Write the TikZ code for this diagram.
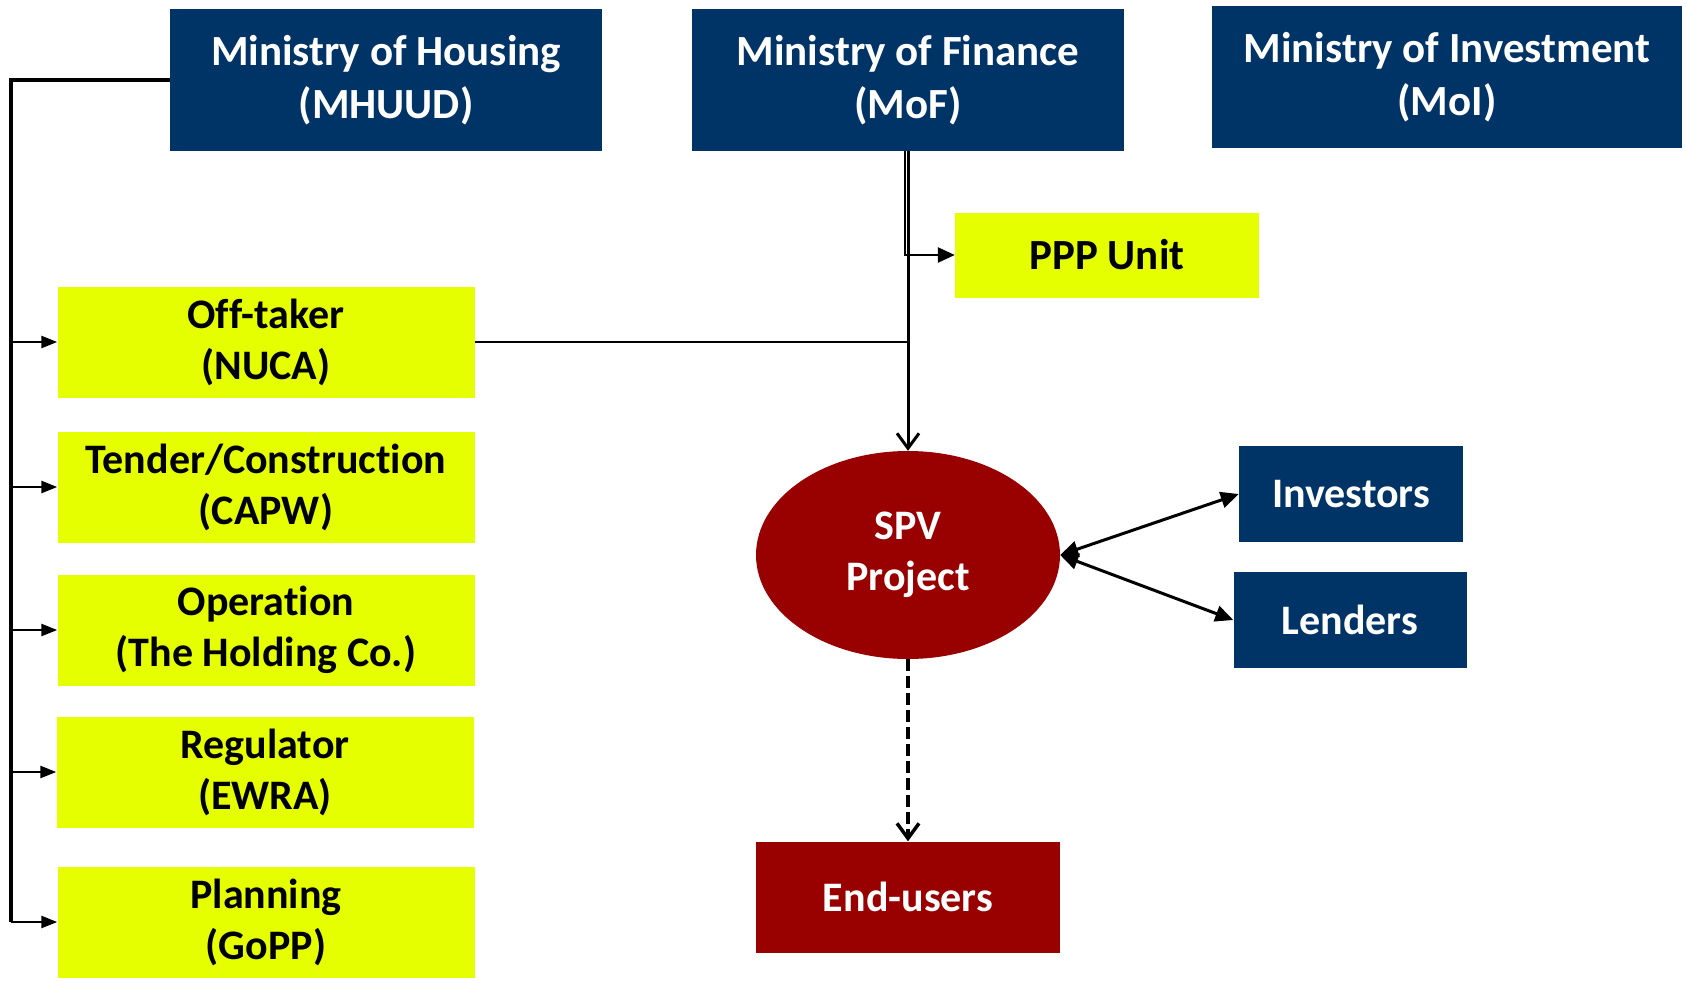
\documentclass[tikz,border=0pt]{standalone}
\usepackage{fontspec}
\setmainfont{Carlito}[Ligatures=NoCommon]
\usetikzlibrary{positioning, shapes.geometric, arrows.meta}
\definecolor{navy}{RGB}{0,51,102}
\definecolor{lime}{RGB}{229,255,0}
\definecolor{darkred}{RGB}{153,0,0}

\begin{document}
\begin{tikzpicture}
    [
      x=1pt, y=-1pt,
      every node/.style = {align=center, inner sep=0pt, font=\bfseries\fontsize{42}{51}\selectfont},
      navybox/.style = {rectangle, fill=navy, text=white, minimum height=142pt, font=\bfseries\fontsize{43}{53}\selectfont},
      limebox/.style = {rectangle, fill=lime, text=black, minimum width=417pt, minimum height=111pt},
      redbox/.style = {fill=darkred, text=white},
      conn/.style = {line width=2.5pt},
      filltip/.style = {-{Triangle[length=16pt,width=12pt]}},
      opentip/.style = {-{Straight Barb[length=15pt,width=22pt]}}
    ]
    \useasboundingbox (0,0) rectangle (1686,980);

    % ministries along the top
    \node[navybox, minimum width=432pt](mhuud) at (386,80) {Ministry of Housing\\(MHUUD)};
    \node[navybox, minimum width=432pt](mof) at (908,80) {Ministry of Finance\\(MoF)};
    \node[navybox, minimum width=470pt](moi) at (1447,77) {Ministry of Investment\\(MoI)};

    \node[limebox, minimum width=304pt, minimum height=85pt, font=\bfseries\fontsize{43}{51}\selectfont](ppp) at (1107,255) {PPP Unit};

    % agencies under MHUUD
    \node[limebox](nuca) at (266,342) {Off-taker\\(NUCA)};
    \node[limebox](capw) at (266,487) {Tender/Construction\\(CAPW)};
    \node[limebox](hold) at (266,630) {Operation\\(The Holding Co.)};
    \node[limebox](ewra) at (265,772) {Regulator\\(EWRA)};
    \node[limebox](gopp) at (266,922) {Planning\\(GoPP)};

    % project company and its partners
    \node[ellipse, redbox, minimum width=304pt, minimum height=208pt](spv) at (908,555) {SPV\\Project};
    \node[navybox, minimum width=224pt, minimum height=96pt, font=\bfseries\fontsize{42}{51}\selectfont](inv) at (1351,494) {Investors};
    \node[navybox, minimum width=233pt, minimum height=96pt, font=\bfseries\fontsize{42}{51}\selectfont](lend) at (1350,620) {Lenders};
    \node[rectangle, redbox, minimum width=304pt, minimum height=111pt](eu) at (908,897) {End-users};

    % MHUUD trunk
    \coordinate (trunk) at (11,80);
    \draw[line width=3.5pt] (mhuud.west) -- (trunk) -- (trunk |- gopp.west);
    \foreach \b in {nuca,capw,hold,ewra,gopp}
      \draw[conn, filltip] (trunk |- \b.west) -- (\b.west);

    % MoF links
    \draw[conn, -{Triangle[length=17pt,width=15pt]}] ([xshift=-3pt]mof.south) |- (ppp.west);
    \draw[line width=3pt, opentip] (mof.south) -- (spv.north);
    \draw[conn] (nuca.east) -- (nuca.east -| spv.north);

    \draw[line width=3pt, {Triangle[length=18pt,width=16pt]}-{Triangle[length=18pt,width=16pt]}] (spv.east) -- (inv.west);
    \draw[line width=3pt, {Triangle[length=18pt,width=16pt]}-{Triangle[length=18pt,width=16pt]}] (spv.east) -- (lend.west);

    \draw[line width=3.5pt, dash pattern=on 12pt off 5pt, opentip] (spv.south) -- (eu.north);
\end{tikzpicture}
\end{document}
